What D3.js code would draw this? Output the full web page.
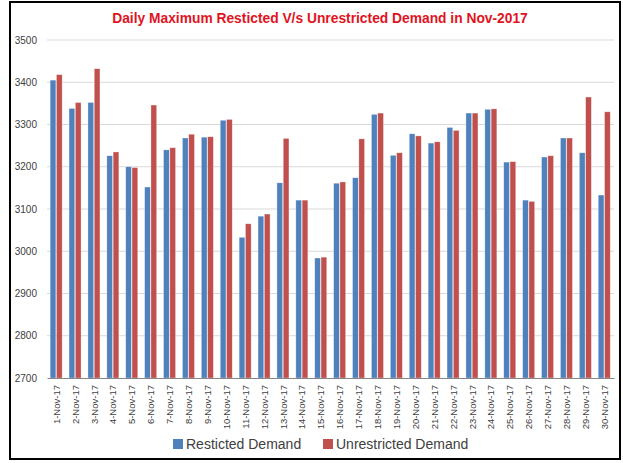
<!DOCTYPE html>
<html>
<head>
<meta charset="utf-8">
<script src="https://cdn.jsdelivr.net/npm/d3@7"></script>
<style>
  body { margin: 0; background: #fff; }
  text { font-family: "Liberation Sans", Arial, sans-serif; }
</style>
</head>
<body>
<div id="chart-area"></div>
<script>
// DATA
var days = d3.range(1, 31).map(function (d) { return d + "-Nov-17"; });
var restricted = [3405, 3338, 3352, 3226, 3200, 3152, 3240, 3268, 3270, 3310,
                  3033, 3083, 3162, 3121, 2984, 3161, 3174, 3324, 3227, 3278,
                  3256, 3293, 3327, 3336, 3211, 3121, 3223, 3268, 3233, 3133];
var unrestricted = [3418, 3352, 3432, 3235, 3198, 3346, 3245, 3277, 3271, 3312,
                    3065, 3088, 3267, 3121, 2986, 3164, 3266, 3327, 3233, 3273,
                    3259, 3286, 3327, 3337, 3212, 3118, 3226, 3268, 3365, 3330];
var yTicks = [2700, 2800, 2900, 3000, 3100, 3200, 3300, 3400, 3500];
var seriesNames = ["Resticted Demand", "Unrestricted Demand"];
var colors = ["#4F81BD", "#C0504D"];

var W = 623, H = 463;
var margin = { left: 47, right: 9, top: 40, bottom: 85 };
var width = W - margin.left - margin.right,
    height = H - margin.top - margin.bottom;

var svg = d3.select("#chart-area")
    .append("svg")
    .attr("width", W)
    .attr("height", H);

// FRAME
svg.append("rect")
    .attr("x", 10).attr("y", 2)
    .attr("width", 610).attr("height", 457)
    .attr("fill", "#fff")
    .attr("stroke", "#000")
    .attr("stroke-width", 2);

// TITLE
svg.append("text")
    .attr("x", 320)
    .attr("y", 23)
    .attr("text-anchor", "middle")
    .attr("font-size", "13.8px")
    .attr("font-weight", "bold")
    .attr("fill", "#E0141E")
    .text("Daily Maximum Resticted V/s Unrestricted Demand in Nov-2017");

var g = svg.append("g")
    .attr("transform", "translate(" + margin.left + "," + margin.top + ")");

// SCALES
var x = d3.scaleBand()
    .domain(days)
    .range([0, width])
    .paddingInner(0.3333)
    .paddingOuter(0.1667);

var x1 = d3.scaleBand()
    .domain([0, 1])
    .range([0, x.bandwidth()])
    .padding(0);

var y = d3.scaleLinear()
    .domain([2700, 3500])
    .range([height, 0]);

// GRIDLINES
g.selectAll(".grid")
    .data(yTicks.slice(1))
    .enter().append("line")
    .attr("x1", 0).attr("x2", width)
    .attr("y1", function (d) { return y(d); })
    .attr("y2", function (d) { return y(d); })
    .attr("stroke", "#D9D9D9")
    .attr("stroke-width", 1);

// Y AXIS
var yAxisCall = d3.axisLeft(y)
    .tickValues(yTicks)
    .tickFormat(d3.format("d"))
    .tickSize(0)
    .tickPadding(10);
var yAxisGroup = g.append("g").call(yAxisCall);
yAxisGroup.select(".domain").remove();
yAxisGroup.selectAll("text")
    .attr("font-size", "10px")
    .attr("fill", "#404040");

// BARS
var values = [restricted, unrestricted];
values.forEach(function (arr, s) {
    g.selectAll(".bar" + s)
        .data(arr)
        .enter().append("rect")
        .attr("x", function (d, i) { return x(days[i]) + x1(s); })
        .attr("y", function (d) { return y(d); })
        .attr("width", x1.bandwidth() - 0.6)
        .attr("height", function (d) { return height - y(d); })
        .attr("fill", colors[s])
        .attr("stroke", "#fff")
        .attr("stroke-opacity", 0.5)
        .attr("stroke-width", 0.6);
});

// X AXIS
var xAxisCall = d3.axisBottom(x).tickSize(0).tickPadding(6);
var xAxisGroup = g.append("g")
    .attr("transform", "translate(0," + height + ")")
    .call(xAxisCall);
xAxisGroup.select(".domain").attr("stroke", "#868686");
xAxisGroup.selectAll("text")
    .attr("font-size", "9.5px")
    .attr("fill", "#404040")
    .attr("text-anchor", "end")
    .attr("dy", "0.35em")
    .attr("transform", "translate(0,6) rotate(-90)")
    .attr("x", -1)
    .attr("y", 0);

// LEGEND
var legendX = [173, 323];
var legend = svg.selectAll(".legend")
    .data(seriesNames)
    .enter().append("g")
    .attr("transform", function (d, i) { return "translate(" + legendX[i] + ",439)"; });
legend.append("rect")
    .attr("width", 10).attr("height", 10)
    .attr("fill", function (d, i) { return colors[i]; });
legend.append("text")
    .attr("x", 13).attr("y", 10)
    .attr("font-size", "14px")
    .attr("fill", "#404040")
    .text(function (d) { return d; });
</script>
</body>
</html>
